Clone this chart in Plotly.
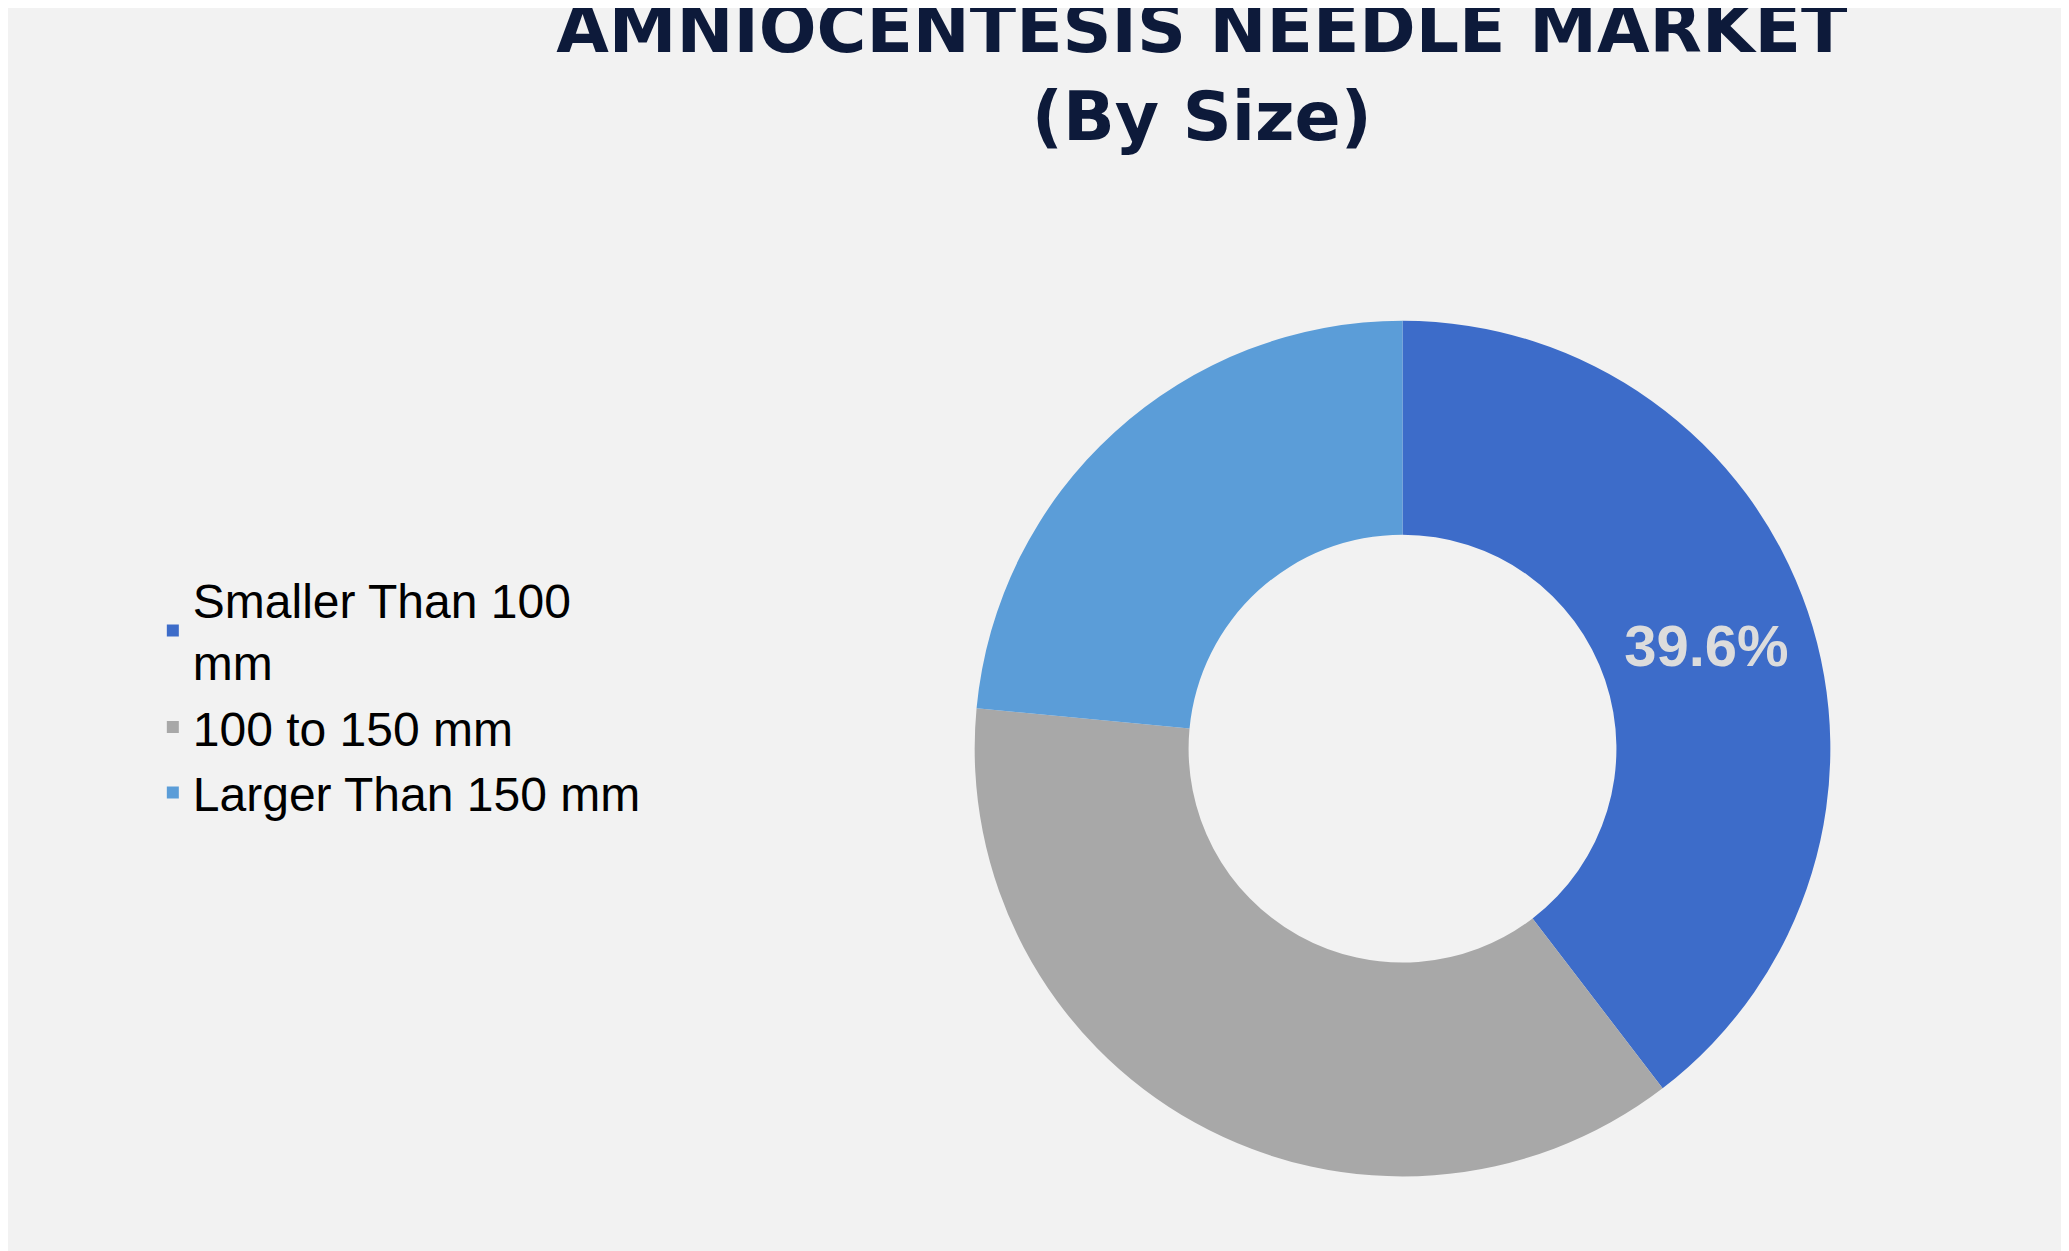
import plotly.graph_objects as go

labels = ["Smaller Than 100<br>mm", "100 to 150 mm", "Larger Than 150 mm"]
values = [39.6, 36.9, 23.5]
texts = ["39.6%", "", ""]
colors = ["#3d6cc9", "#a8a8a8", "#5b9dd8"]

fig = go.Figure(go.Pie(
    labels=labels, values=values, text=texts, textinfo="text",
    hole=0.5, sort=False, direction="clockwise", rotation=0,
    marker=dict(colors=colors), textposition="inside",
    insidetextfont=dict(family="Liberation Sans", size=58, color="#dcdcdc", weight="bold"),
    domain=dict(x=[0.467, 0.881], y=[0.066, 0.75]),
    insidetextorientation="horizontal",
))
fig.update_layout(
    width=2069, height=1251,
    paper_bgcolor="#f2f2f2", plot_bgcolor="#f2f2f2",
    margin=dict(l=0, r=0, t=0, b=0),
    font=dict(family="Liberation Sans"),
    title=dict(text="<b>AMNIOCENTESIS NEEDLE MARKET<br>(By Size)</b>",
               x=0.577, xanchor="center", y=0.965, yanchor="top",
               font=dict(family="DejaVu Sans", size=68, color="#0d1a3a")),
    legend=dict(x=0.07, y=0.45, xanchor="left", yanchor="middle",
                font=dict(size=48, color="#000000"),
                itemsizing="constant", bgcolor="rgba(0,0,0,0)"),
)
fig.write_html("out.html")
